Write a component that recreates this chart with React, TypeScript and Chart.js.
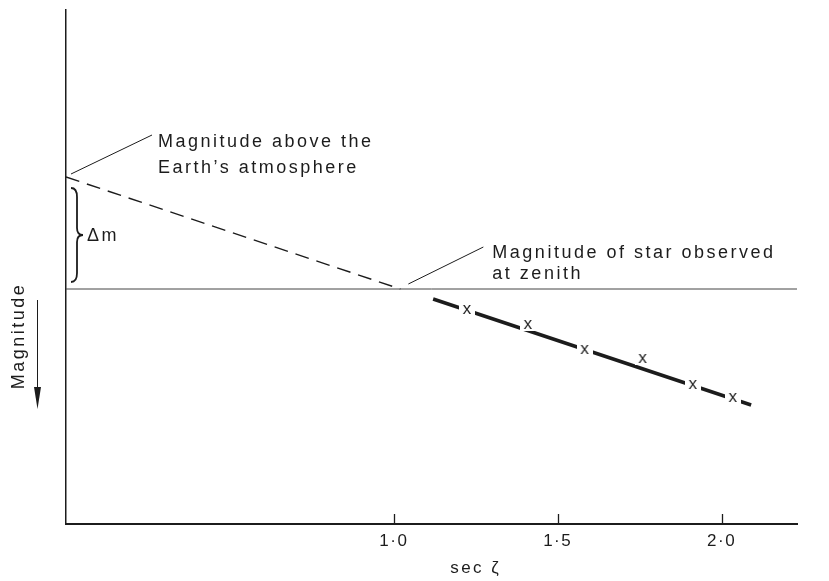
import React, { useEffect, useRef } from 'react';
import { Chart, registerables } from 'chart.js';

Chart.register(...registerables);

// ---- data ----
const xTickValues = [1.0, 1.5, 2.0];
const xMin = 0;
const xMax = 2.23;
const yMin = -2.79; // top (brighter)
const yMax = 2.35; // bottom (fainter)

const zenithLineX = [0, 2.23];
const zenithLineY = [0, 0];
const extrapX = [0, 1.02];
const extrapY = [-1.12, 0];
const fitX = [1.12, 2.09];
const fitY = [0.1, 1.16];
const obsSecZ = [1.223, 1.409, 1.582, 1.759, 1.912, 2.034];
const obsMag = [0.2, 0.35, 0.6, 0.69, 0.95, 1.08];

const labelAbove = ['Magnitude above the', 'Earth\u2019s atmosphere'];
const labelZenith = ['Magnitude of star observed', 'at zenith'];
const deltaLabel = '\u0394m';
const yTitle = 'Magnitude';
const xTitle = 'sec \u03B6';

const FONT = '"Liberation Sans", Arial, Helvetica, sans-serif';
const INK = '#1c1c1c';

const pts = (xs: number[], ys: number[]) => xs.map((x, i) => ({ x, y: ys[i] }));

function makeMarker(): HTMLCanvasElement {
  const c = document.createElement('canvas');
  c.width = 16;
  c.height = 14;
  const g = c.getContext('2d')!;
  g.fillStyle = '#ffffff';
  g.fillRect(0, 0, 16, 14);
  g.fillStyle = INK;
  g.font = `17px ${FONT}`;
  g.textAlign = 'center';
  g.textBaseline = 'alphabetic';
  g.fillText('x', 8, 11.5);
  return c;
}

const annotate = {
  id: 'annotate',
  beforeDraw(chart: any) {
    (chart.ctx as any).letterSpacing = '1.5px';
  },
  afterDraw(chart: any) {
    const ctx = chart.ctx as CanvasRenderingContext2D;
    const xs = chart.scales.x;
    const ys = chart.scales.y;
    const area = chart.chartArea;
    const X = (v: number) => xs.getPixelForValue(v);
    const Y = (v: number) => ys.getPixelForValue(v);
    ctx.save();
    ctx.strokeStyle = INK;
    ctx.fillStyle = INK;

    // tick marks pointing into plot
    ctx.lineWidth = 1.3;
    ctx.beginPath();
    xTickValues.forEach((v) => {
      const px = Math.round(X(v)) + 0.5;
      ctx.moveTo(px, area.bottom);
      ctx.lineTo(px, area.bottom - 10);
    });
    ctx.stroke();

    (ctx as any).letterSpacing = '2.5px';
    ctx.font = `18px ${FONT}`;
    ctx.textAlign = 'left';
    ctx.textBaseline = 'alphabetic';

    // leader + text: magnitude above atmosphere
    const ax = X(extrapX[0]);
    const ay = Y(extrapY[0]);
    ctx.lineWidth = 1;
    ctx.beginPath();
    ctx.moveTo(ax + 5, ay - 3);
    ctx.lineTo(ax + 86, ay - 42);
    ctx.stroke();
    ctx.fillText(labelAbove[0], ax + 92, ay - 30);
    ctx.fillText(labelAbove[1], ax + 92, ay - 4);

    // leader + text: zenith
    const zx = X(extrapX[1]);
    const zy = Y(extrapY[1]);
    ctx.beginPath();
    ctx.moveTo(zx + 8, zy - 5);
    ctx.lineTo(zx + 83, zy - 42);
    ctx.stroke();
    ctx.fillText(labelZenith[0], zx + 92, zy - 31);
    ctx.fillText(labelZenith[1], zx + 92, zy - 10);

    // brace
    const bx = ax + 5;
    const top = ay + 11;
    const bot = zy - 7;
    const mid = (top + bot) / 2;
    ctx.lineWidth = 1.8;
    ctx.beginPath();
    ctx.moveTo(bx, top);
    ctx.quadraticCurveTo(bx + 6, top, bx + 6, top + 9);
    ctx.lineTo(bx + 6, mid - 7);
    ctx.quadraticCurveTo(bx + 6, mid, bx + 12, mid);
    ctx.quadraticCurveTo(bx + 6, mid, bx + 6, mid + 7);
    ctx.lineTo(bx + 6, bot - 9);
    ctx.quadraticCurveTo(bx + 6, bot, bx, bot);
    ctx.stroke();
    ctx.textBaseline = 'middle';
    ctx.fillText(deltaLabel, bx + 16, mid + 1);

    // y title + arrow
    ctx.save();
    ctx.translate(19, 336);
    ctx.rotate(-Math.PI / 2);
    ctx.textAlign = 'center';
    ctx.textBaseline = 'middle';
    ctx.fillText(yTitle, 0, 0);
    ctx.restore();
    ctx.lineWidth = 1;
    ctx.beginPath();
    ctx.moveTo(37.5, 300);
    ctx.lineTo(37.5, 392);
    ctx.stroke();
    ctx.beginPath();
    ctx.moveTo(34, 387);
    ctx.lineTo(41, 387);
    ctx.lineTo(37.5, 409);
    ctx.closePath();
    ctx.fill();

    // x title
    ctx.font = `17px ${FONT}`;
    ctx.textAlign = 'center';
    ctx.textBaseline = 'alphabetic';
    ctx.fillText(xTitle, X(1.25), 573);

    ctx.restore();
  },
};

export default function App() {
  const ref = useRef<HTMLCanvasElement>(null);
  useEffect(() => {
    document.body.style.margin = '0';
    const marker = makeMarker();
    const chart = new Chart(ref.current!, {
      type: 'scatter',
      data: {
        datasets: [
          {
            data: pts(obsSecZ, obsMag),
            pointStyle: marker as any,
            pointRadius: 8,
            showLine: false,
            order: 0,
          },
          {
            data: pts(fitX, fitY),
            showLine: true,
            borderColor: INK,
            borderWidth: 3.5,
            pointRadius: 0,
            order: 1,
          },
          {
            data: pts(extrapX, extrapY),
            showLine: true,
            borderColor: INK,
            borderWidth: 1.4,
            borderDash: [14, 8],
            pointRadius: 0,
            order: 2,
          },
          {
            data: pts(zenithLineX, zenithLineY),
            showLine: true,
            borderColor: '#444',
            borderWidth: 1,
            pointRadius: 0,
            order: 3,
          },
        ],
      },
      options: {
        responsive: false,
        animation: false,
        devicePixelRatio: 1,
        layout: { padding: { left: 66, right: 32, top: 10, bottom: 0 } },
        plugins: { legend: { display: false }, tooltip: { enabled: false } },
        scales: {
          x: {
            type: 'linear',
            min: xMin,
            max: xMax,
            afterBuildTicks: (s: any) => {
              s.ticks = xTickValues.map((v) => ({ value: v }));
            },
            afterFit: (s: any) => {
              s.height = 57;
            },
            ticks: {
              color: INK,
              padding: 7,
              font: { family: FONT, size: 17 },
              callback: (v: any) => Number(v).toFixed(1).replace('.', '\u00B7'),
            },
            grid: { display: true, drawOnChartArea: false, drawTicks: false },
            border: { display: true, color: INK, width: 2 },
          },
          y: {
            type: 'linear',
            reverse: true,
            min: yMin,
            max: yMax,
            afterFit: (s: any) => {
              s.width = 0;
            },
            ticks: { display: false },
            grid: { display: false, drawTicks: false },
            border: { display: true, color: INK, width: 1.5 },
          },
        },
      },
      plugins: [annotate],
    });
    return () => chart.destroy();
  }, []);
  return (
    <div style={{ width: 829, height: 581 }}>
      <canvas ref={ref} width={829} height={581} />
    </div>
  );
}
